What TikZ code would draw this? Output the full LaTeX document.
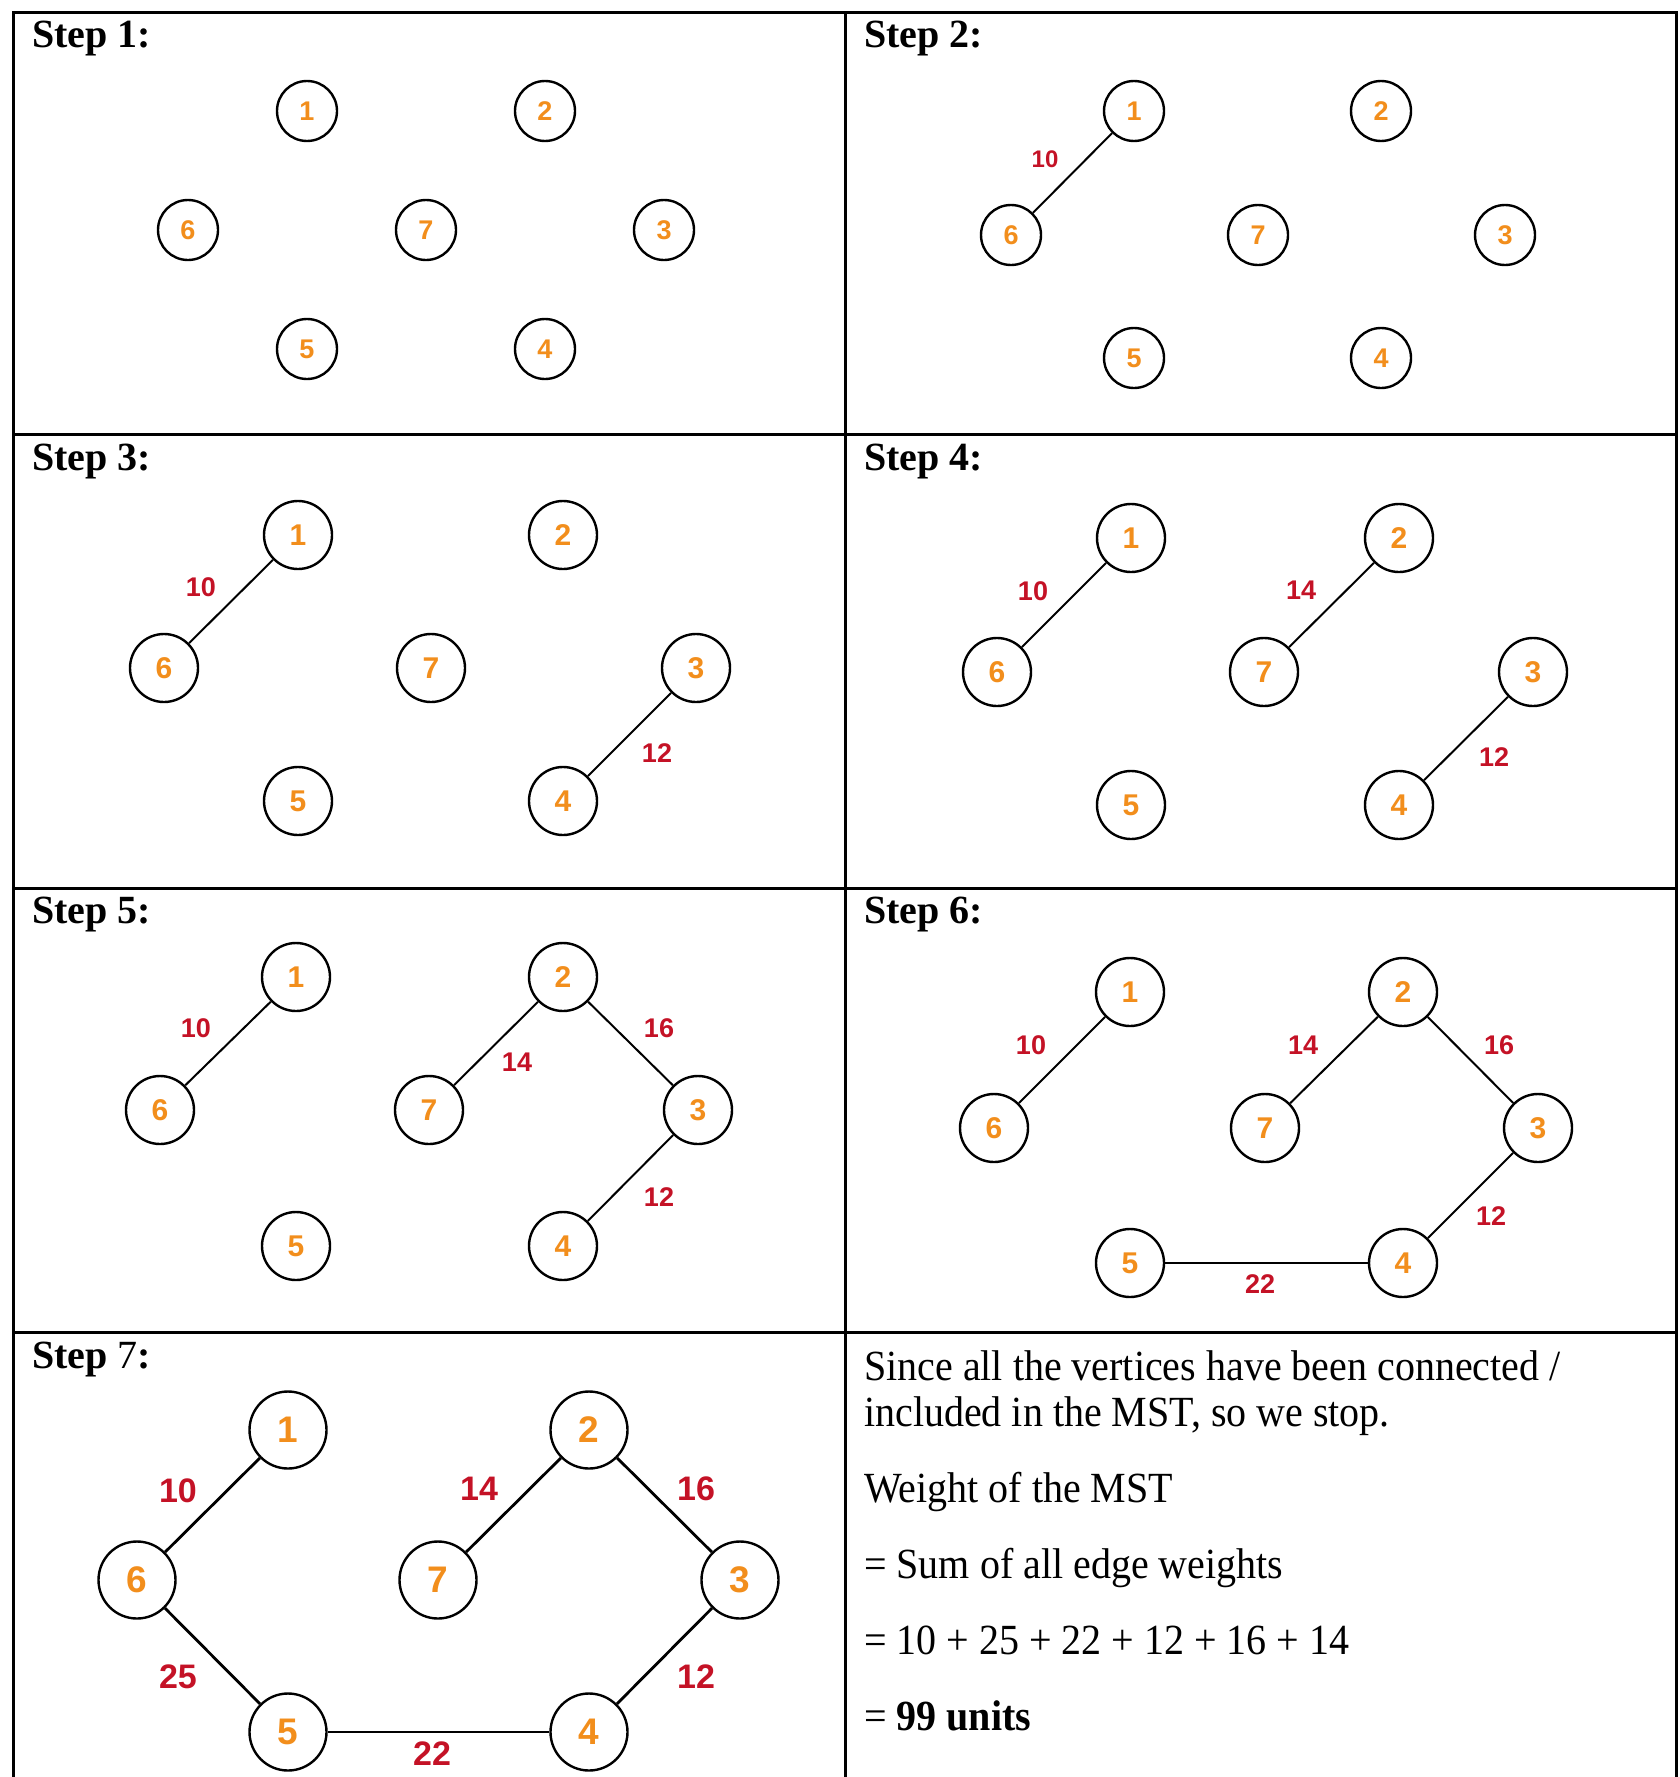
\documentclass[tikz,border=0pt]{standalone}
\usepackage{fontspec}
\setmainfont{Liberation Serif}
\newfontfamily\arialfont{Liberation Sans}
\newfontfamily\narrowserif[FakeStretch=0.93]{Liberation Serif}
\usetikzlibrary{shapes.geometric}

\definecolor{vorange}{RGB}{242,142,28}
\definecolor{wred}{RGB}{196,18,38}

\tikzset{
  vtx/.style={circle, draw=black, line width=2.4pt, fill=white, inner sep=0pt,
              text=vorange, font=\arialfont\bfseries\fontsize{#1}{#1}\selectfont},
  vsmall/.style={vtx=27, minimum size=60pt},
  vmid/.style={vtx=30, minimum size=68pt},
  vbig/.style={vtx=37, minimum size=77pt},
  wlab/.style={text=wred, inner sep=0pt, font=\arialfont\bfseries\fontsize{#1}{#1}\selectfont},
  mst/.style={draw=black, line width=2pt},
  mstbig/.style={draw=black, line width=2.8pt},
  title/.style={anchor=base west, inner sep=0pt, font=\fontsize{40}{40}\selectfont\bfseries},
  body/.style={anchor=base west, inner sep=0pt, font=\narrowserif\fontsize{43}{43}\selectfont},
  frame/.style={draw=black, line width=3pt}
}

\begin{document}
\begin{tikzpicture}[x=1pt, y=-1pt]
\useasboundingbox (0,0) rectangle (1679,1777);

% table grid
\draw[frame] (13,1777) -- (13,12.5) -- (1676,12.5) -- (1676,1777);
\draw[frame] (845,12.5) -- (845,1777);
\draw[frame] (13,434) -- (1676,434);
\draw[frame] (13,888) -- (1676,888);
\draw[frame] (13,1332) -- (1676,1332);

% ---------- Step 1 ----------
\node[title] (t1) at (32,48) {Step 1:};
\node[vsmall] (a1) at (307,111) {1};
\node[vsmall] (a2) at (545,111) {2};
\node[vsmall] (a6) at (188,230) {6};
\node[vsmall] (a7) at (426,230) {7};
\node[vsmall] (a3) at (664,230) {3};
\node[vsmall] (a5) at (307,349) {5};
\node[vsmall] (a4) at (545,349) {4};

% ---------- Step 2 ----------
\node[title] (t2) at (864,48) {Step 2:};
\node[vsmall] (b1) at (1134,111) {1};
\node[vsmall] (b2) at (1381,111) {2};
\node[vsmall] (b6) at (1011,235) {6};
\node[vsmall] (b7) at (1258,235) {7};
\node[vsmall] (b3) at (1505,235) {3};
\node[vsmall] (b5) at (1134,358) {5};
\node[vsmall] (b4) at (1381,358) {4};
\draw[mst] (b1) -- (b6);
\node[wlab=24] (bw16) at (1045,159) {10};

% ---------- Step 3 ----------
\node[title] (t3) at (32,470) {Step 3:};
\node[vmid] (c1) at (298,535) {1};
\node[vmid] (c2) at (563,535) {2};
\node[vmid] (c6) at (164,668) {6};
\node[vmid] (c7) at (431,668) {7};
\node[vmid] (c3) at (696,668) {3};
\node[vmid] (c5) at (298,801) {5};
\node[vmid] (c4) at (563,801) {4};
\draw[mst] (c1) -- (c6);
\draw[mst] (c3) -- (c4);
\node[wlab=27] (cw16) at (201,587) {10};
\node[wlab=27] (cw34) at (657,753) {12};

% ---------- Step 4 ----------
\node[title] (t4) at (864,470) {Step 4:};
\node[vmid] (d1) at (1131,538) {1};
\node[vmid] (d2) at (1399,538) {2};
\node[vmid] (d6) at (997,672) {6};
\node[vmid] (d7) at (1264,672) {7};
\node[vmid] (d3) at (1533,672) {3};
\node[vmid] (d5) at (1131,805) {5};
\node[vmid] (d4) at (1399,805) {4};
\draw[mst] (d1) -- (d6);
\draw[mst] (d2) -- (d7);
\draw[mst] (d3) -- (d4);
\node[wlab=27] (dw16) at (1033,591) {10};
\node[wlab=27] (dw27) at (1301,590) {14};
\node[wlab=27] (dw34) at (1494,757) {12};

% ---------- Step 5 ----------
\node[title] (t5) at (32,923) {Step 5:};
\node[vmid] (e1) at (296,977) {1};
\node[vmid] (e2) at (563,977) {2};
\node[vmid] (e6) at (160,1110) {6};
\node[vmid] (e7) at (429,1110) {7};
\node[vmid] (e3) at (698,1110) {3};
\node[vmid] (e5) at (296,1246) {5};
\node[vmid] (e4) at (563,1246) {4};
\draw[mst] (e1) -- (e6);
\draw[mst] (e2) -- (e7);
\draw[mst] (e2) -- (e3);
\draw[mst] (e3) -- (e4);
\node[wlab=27] (ew16) at (196,1028) {10};
\node[wlab=27] (ew27) at (517,1062) {14};
\node[wlab=27] (ew23) at (659,1028) {16};
\node[wlab=27] (ew34) at (659,1197) {12};

% ---------- Step 6 ----------
\node[title] (t6) at (864,923) {Step 6:};
\node[vmid] (f1) at (1130,992) {1};
\node[vmid] (f2) at (1403,992) {2};
\node[vmid] (f6) at (994,1128) {6};
\node[vmid] (f7) at (1265,1128) {7};
\node[vmid] (f3) at (1538,1128) {3};
\node[vmid] (f5) at (1130,1263) {5};
\node[vmid] (f4) at (1403,1263) {4};
\draw[mst] (f1) -- (f6);
\draw[mst] (f2) -- (f7);
\draw[mst] (f2) -- (f3);
\draw[mst] (f3) -- (f4);
\draw[mst] (f5) -- (f4);
\node[wlab=27] (fw16) at (1031,1045) {10};
\node[wlab=27] (fw27) at (1303,1045) {14};
\node[wlab=27] (fw23) at (1499,1045) {16};
\node[wlab=27] (fw34) at (1491,1216) {12};
\node[wlab=27] (fw54) at (1260,1284) {22};

% ---------- Step 7 ----------
\node[title] (t7) at (32,1368) {Step {\mdseries 7}:};
\node[vbig] (g1) at (288,1430) {1};
\node[vbig] (g2) at (589,1430) {2};
\node[vbig] (g6) at (137,1580) {6};
\node[vbig] (g7) at (438,1580) {7};
\node[vbig] (g3) at (740,1580) {3};
\node[vbig] (g5) at (288,1732) {5};
\node[vbig] (g4) at (589,1732) {4};
\draw[mstbig] (g1) -- (g6);
\draw[mstbig] (g2) -- (g7);
\draw[mstbig] (g2) -- (g3);
\draw[mstbig] (g6) -- (g5);
\draw[mstbig] (g3) -- (g4);
\draw[mstbig] (g5) -- (g4);
\node[wlab=34] (gw16) at (178,1491) {10};
\node[wlab=34] (gw27) at (479,1489) {14};
\node[wlab=34] (gw23) at (696,1489) {16};
\node[wlab=34] (gw65) at (178,1677) {25};
\node[wlab=34] (gw34) at (696,1677) {12};
\node[wlab=34] (gw54) at (432,1754) {22};

% ---------- Summary ----------
\node[body] (s1) at (864,1380) {Since all the vertices have been connected /};
\node[body] (s2) at (864,1426) {included in the MST, so we stop.};
\node[body] (s3) at (864,1502) {Weight of the MST};
\node[body] (s4) at (864,1578) {= Sum of all edge weights};
\node[body] (s5) at (864,1654) {= 10 + 25 + 22 + 12 + 16 + 14};
\node[body] (s6) at (864,1730) {= \textbf{99 units}};

\end{tikzpicture}
\end{document}
